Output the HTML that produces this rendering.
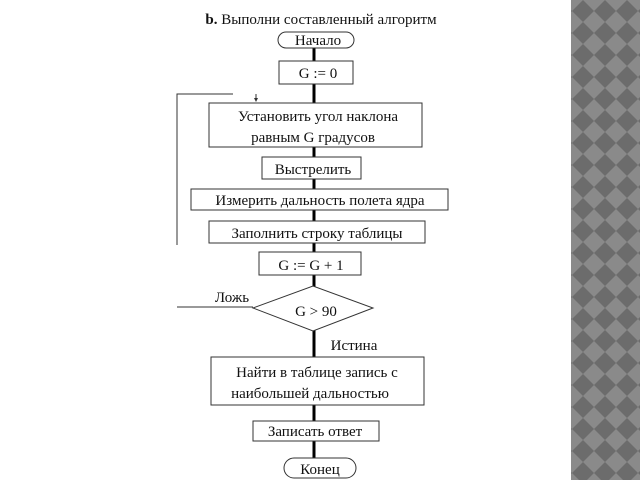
<!DOCTYPE html>
<html><head><meta charset="utf-8"><style>
body{margin:0;width:640px;height:480px;background:#fff;overflow:hidden;position:relative;font-family:"Liberation Serif",serif;}
svg{position:absolute;left:0;top:0}
</style></head><body>
<svg width="640" height="480" xmlns="http://www.w3.org/2000/svg">
<defs>
<pattern id="d" width="22" height="22" patternUnits="userSpaceOnUse">
<rect width="22" height="22" fill="#8a8a8a"/>
<polygon points="11,0 22,11 11,22 0,11" fill="#6c6c6c"/>
</pattern>
</defs>
<rect x="571" y="0" width="69" height="480" fill="url(#d)"/>
<line x1="314" y1="48" x2="314" y2="458" stroke="#000" stroke-width="3"/>
<g fill="#fff" stroke="#333" stroke-width="1">
<rect x="278" y="32" width="76" height="16" rx="8"/>
<rect x="279" y="61" width="74" height="23"/>
<rect x="209" y="103" width="213" height="44"/>
<rect x="262" y="157" width="99" height="22"/>
<rect x="191" y="189" width="257" height="21"/>
<rect x="209" y="221" width="216" height="22"/>
<rect x="259" y="252" width="102" height="23"/>
<polygon points="253,308 313,286 373,308 313,331"/>
<rect x="211" y="357" width="213" height="48"/>
<rect x="253" y="421" width="126" height="20"/>
<rect x="284" y="458" width="72" height="20" rx="10"/>
</g>
<polyline points="233,94 177,94 177,245" fill="none" stroke="#333"/>
<line x1="177" y1="307" x2="253" y2="307" stroke="#333"/>
<line x1="256" y1="94" x2="256" y2="101" stroke="#333"/>
<polygon points="254,98 258,98 256,102" fill="#333"/>
<g font-size="15" fill="#111" text-anchor="middle">
<text x="321" y="24"><tspan font-weight="bold">b.</tspan> Выполни составленный алгоритм</text>
<text x="318" y="45">Начало</text>
<text x="318" y="78">G := 0</text>
<text x="318" y="121">Установить угол наклона</text>
<text x="313" y="142">равным G градусов</text>
<text x="313" y="174">Выстрелить</text>
<text x="320" y="205">Измерить дальность полета ядра</text>
<text x="317" y="238">Заполнить строку таблицы</text>
<text x="311" y="270">G := G + 1</text>
<text x="316" y="316">G &gt; 90</text>
<text x="232" y="302">Ложь</text>
<text x="354" y="350">Истина</text>
<text x="317" y="377">Найти в таблице запись с</text>
<text x="310" y="398">наибольшей дальностью</text>
<text x="315" y="436">Записать ответ</text>
<text x="320" y="474">Конец</text>
</g>
</svg>
</body></html>
